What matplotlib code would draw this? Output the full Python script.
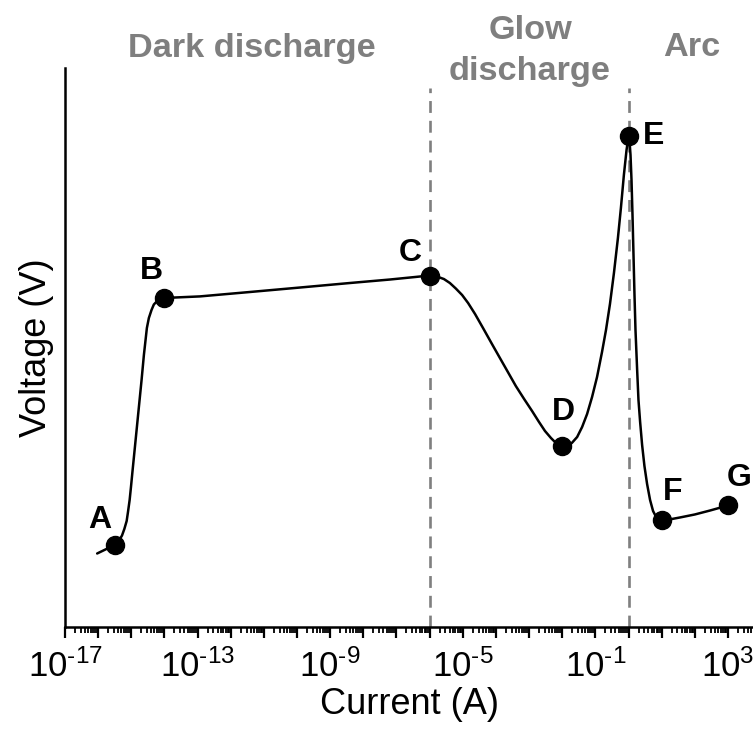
import numpy as np
import matplotlib
matplotlib.use('Agg')
import matplotlib.pyplot as plt
from matplotlib.ticker import FixedLocator, FuncFormatter

plt.rcParams['font.family'] = ['Liberation Sans', 'DejaVu Sans']
plt.rcParams['mathtext.fontset'] = 'custom'
plt.rcParams['mathtext.rm'] = 'Liberation Sans'
plt.rcParams['mathtext.it'] = 'Liberation Sans'

# curve: log10(current), voltage (arbitrary units)
curve_logi = [-16.03, -15.50, -15.43, -15.36, -15.28, -15.21, -15.14, -15.10,
              -15.05, -15.01, -14.96, -14.89, -14.79, -14.69, -14.62, -14.57,
              -14.53, -14.47, -14.39, -14.32, -14.22, -14.13, -14.00,
              -12.93, -11.42, -9.91, -8.40, -7.20, -6.44, -6.00,
              -5.78, -5.57, -5.39, -5.21, -5.02, -4.84, -4.63, -4.39, -4.12,
              -3.88, -3.64, -3.40, -3.15, -2.91, -2.70, -2.52, -2.34, -2.19,
              -2.00, -1.86, -1.71, -1.55, -1.40, -1.25, -1.10, -0.95, -0.80,
              -0.68, -0.56, -0.44, -0.32, -0.23, -0.14, -0.06, 0.00,
              0.03, 0.06, 0.09, 0.12, 0.15, 0.18, 0.21, 0.26, 0.30, 0.35,
              0.41, 0.48, 0.56, 0.65, 0.74, 0.84, 1.00,
              1.19, 1.55, 2.00, 2.46, 3.00]
curve_v = [13.15, 14.67, 15.03, 15.56, 16.37, 17.53, 18.96, 20.57,
           22.72, 25.04, 28.09, 32.25, 38.23, 44.19, 48.66, 51.34,
           53.49, 55.28, 56.71, 57.69, 58.32, 58.62, 58.86,
           59.14, 59.93, 60.73, 61.54, 62.16, 62.61, 62.88,
           62.70, 62.25, 61.54, 60.55, 59.39, 57.96, 55.99, 53.49, 50.63,
           48.12, 45.62, 43.11, 40.79, 38.64, 36.67, 35.06, 33.81, 32.92,
           32.29, 32.38, 32.92, 33.99, 35.78, 38.10, 41.14, 44.72, 49.19,
           53.13, 57.78, 63.33, 69.59, 74.96, 80.86, 85.33, 87.75,
           86.94, 84.44, 79.96, 73.70, 66.55, 59.39, 53.13, 45.97, 40.61, 36.67,
           32.56, 28.80, 25.58, 22.72, 20.75, 19.59, 19.14,
           19.19, 19.59, 20.13, 20.84, 21.74]

# labelled points
point_names = ['A', 'B', 'C', 'D', 'E', 'F', 'G']
point_logi = [-15.5, -14.0, -6.0, -2.0, 0.0, 1.0, 3.0]
point_v = [14.67, 58.86, 62.88, 32.29, 87.75, 19.14, 21.74]

# region borders (log10 current)
borders = [-6.0, 0.0]
regions = ['Dark discharge', 'Glow\ndischarge', 'Arc']

grey = '#7f7f7f'

fig = plt.figure(figsize=(7.53, 7.33), dpi=100)
ax = fig.add_axes([65 / 753, 1 - 627 / 733, 1 - 65 / 753, (627 - 68) / 733])

cur = 10.0 ** np.array(curve_logi)
pts = 10.0 ** np.array(point_logi)

for b in borders:
    ax.plot([10.0 ** b, 10.0 ** b], [0, 96.4], color=grey, lw=1.9,
            ls=(0, (4.5, 3.0)), clip_on=False, zorder=1)

ax.plot(cur, curve_v, color='black', lw=1.8, zorder=2,
        solid_joinstyle='round', solid_capstyle='round')
ax.plot(pts, point_v, 'o', color='black', ms=13, zorder=3)

offsets = [(-15, 25), (-13, 27), (-19, 23), (1, 34), (25, 0), (11, 28), (11, 27)]
for name, x, y, off in zip(point_names, pts, point_v, offsets):
    ax.annotate(name, (x, y), xytext=off, textcoords='offset pixels',
                ha='center', va='center', fontsize=23, fontweight='bold')

ax.set_xscale('log')
ax.set_xlim(1e-17, 10 ** 3.755)
ax.set_ylim(0, 100)

majors = list(range(-17, 4))
ax.xaxis.set_major_locator(FixedLocator([10.0 ** e for e in majors]))
minors = [m * 10.0 ** e for e in range(-17, 4) for m in range(2, 10)]
ax.xaxis.set_minor_locator(FixedLocator(minors))


def fmt(x, pos):
    e = int(round(np.log10(x)))
    if (e + 17) % 4 == 0:
        return r'$10^{\text{%d}}$' % e
    return ''


ax.xaxis.set_major_formatter(FuncFormatter(fmt))
ax.xaxis.set_minor_formatter(FuncFormatter(lambda x, p: ''))
ax.tick_params(axis='x', which='major', length=8, width=1.6, labelsize=25, pad=8)
ax.tick_params(axis='x', which='minor', length=4, width=1.3)
ax.set_yticks([])

for s in ['top', 'right']:
    ax.spines[s].set_visible(False)
ax.spines['left'].set_linewidth(1.8)
ax.spines['bottom'].set_linewidth(1.8)

ax.set_xlabel('Current (A)', fontsize=26, labelpad=2)
ax.set_ylabel('Voltage (V)', fontsize=26, labelpad=8)

fig.text(252 / 753, 1 - 48 / 733, regions[0], ha='center', va='center',
         fontsize=24.7, fontweight='bold', color=grey)
fig.text(530 / 753, 1 - 51 / 733, regions[1], ha='center', va='center',
         fontsize=24.7, fontweight='bold', color=grey, linespacing=1.4)
fig.text(692 / 753, 1 - 48 / 733, regions[2], ha='center', va='center',
         fontsize=24.7, fontweight='bold', color=grey)

fig.savefig('out.png', dpi=100)
